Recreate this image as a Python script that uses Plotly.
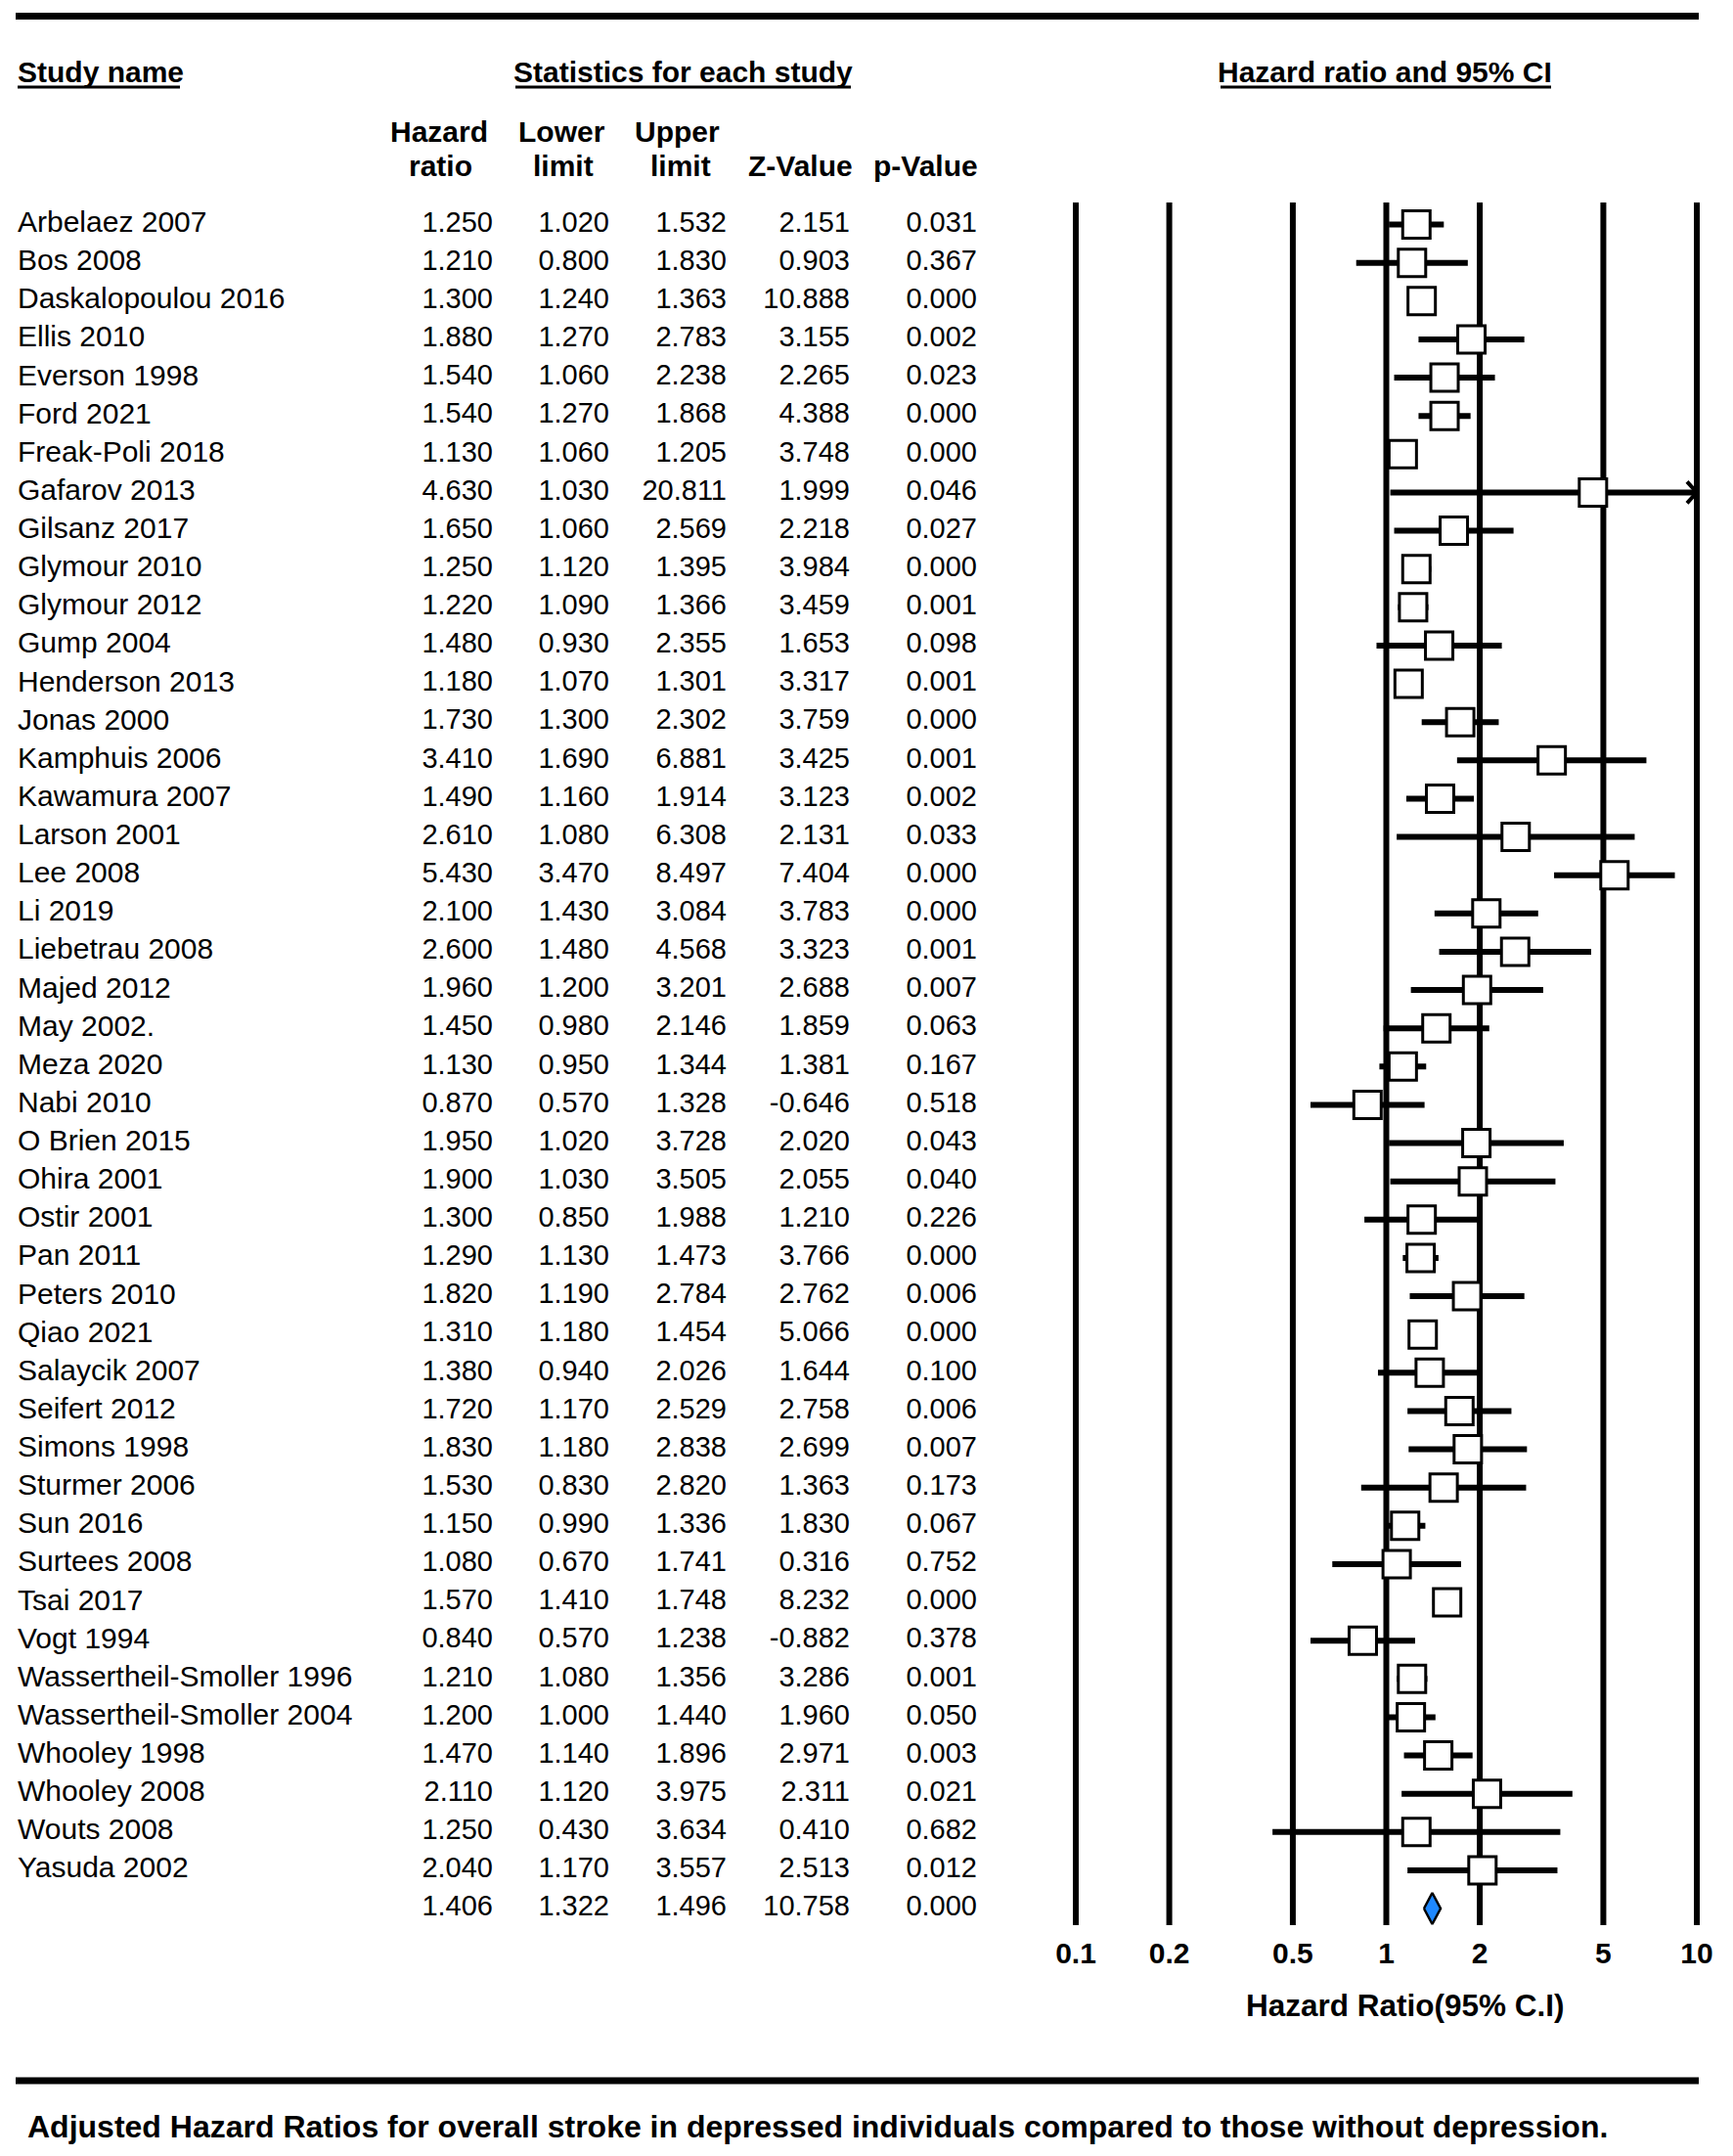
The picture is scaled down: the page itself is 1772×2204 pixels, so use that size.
import plotly.graph_objects as go
import numpy as np

# ---------------- data ----------------
studies = [
    "Arbelaez 2007", "Bos 2008", "Daskalopoulou 2016", "Ellis 2010", "Everson 1998",
    "Ford 2021", "Freak-Poli 2018", "Gafarov 2013", "Gilsanz 2017", "Glymour 2010",
    "Glymour 2012", "Gump 2004", "Henderson 2013", "Jonas 2000", "Kamphuis 2006",
    "Kawamura 2007", "Larson 2001", "Lee 2008", "Li 2019", "Liebetrau 2008",
    "Majed 2012", "May 2002.", "Meza 2020", "Nabi 2010", "O Brien 2015",
    "Ohira 2001", "Ostir 2001", "Pan 2011", "Peters 2010", "Qiao 2021",
    "Salaycik 2007", "Seifert 2012", "Simons 1998", "Sturmer 2006", "Sun 2016",
    "Surtees 2008", "Tsai 2017", "Vogt 1994", "Wassertheil-Smoller 1996",
    "Wassertheil-Smoller 2004", "Whooley 1998", "Whooley 2008", "Wouts 2008", "Yasuda 2002",
]
hazard_ratio = [1.250, 1.210, 1.300, 1.880, 1.540, 1.540, 1.130, 4.630, 1.650, 1.250,
                1.220, 1.480, 1.180, 1.730, 3.410, 1.490, 2.610, 5.430, 2.100, 2.600,
                1.960, 1.450, 1.130, 0.870, 1.950, 1.900, 1.300, 1.290, 1.820, 1.310,
                1.380, 1.720, 1.830, 1.530, 1.150, 1.080, 1.570, 0.840, 1.210, 1.200,
                1.470, 2.110, 1.250, 2.040]
lower_limit = [1.020, 0.800, 1.240, 1.270, 1.060, 1.270, 1.060, 1.030, 1.060, 1.120,
               1.090, 0.930, 1.070, 1.300, 1.690, 1.160, 1.080, 3.470, 1.430, 1.480,
               1.200, 0.980, 0.950, 0.570, 1.020, 1.030, 0.850, 1.130, 1.190, 1.180,
               0.940, 1.170, 1.180, 0.830, 0.990, 0.670, 1.410, 0.570, 1.080, 1.000,
               1.140, 1.120, 0.430, 1.170]
upper_limit = [1.532, 1.830, 1.363, 2.783, 2.238, 1.868, 1.205, 20.811, 2.569, 1.395,
               1.366, 2.355, 1.301, 2.302, 6.881, 1.914, 6.308, 8.497, 3.084, 4.568,
               3.201, 2.146, 1.344, 1.328, 3.728, 3.505, 1.988, 1.473, 2.784, 1.454,
               2.026, 2.529, 2.838, 2.820, 1.336, 1.741, 1.748, 1.238, 1.356, 1.440,
               1.896, 3.975, 3.634, 3.557]
z_value = [2.151, 0.903, 10.888, 3.155, 2.265, 4.388, 3.748, 1.999, 2.218, 3.984,
           3.459, 1.653, 3.317, 3.759, 3.425, 3.123, 2.131, 7.404, 3.783, 3.323,
           2.688, 1.859, 1.381, -0.646, 2.020, 2.055, 1.210, 3.766, 2.762, 5.066,
           1.644, 2.758, 2.699, 1.363, 1.830, 0.316, 8.232, -0.882, 3.286, 1.960,
           2.971, 2.311, 0.410, 2.513]
p_value = [0.031, 0.367, 0.000, 0.002, 0.023, 0.000, 0.000, 0.046, 0.027, 0.000,
           0.001, 0.098, 0.001, 0.000, 0.001, 0.002, 0.033, 0.000, 0.000, 0.001,
           0.007, 0.063, 0.167, 0.518, 0.043, 0.040, 0.226, 0.000, 0.006, 0.000,
           0.100, 0.006, 0.007, 0.173, 0.067, 0.752, 0.000, 0.378, 0.001, 0.050,
           0.003, 0.021, 0.682, 0.012]
summary_hr = 1.406
summary_lower = 1.322
summary_upper = 1.496
summary_z = 10.758
summary_p = 0.000

tick_values = [0.1, 0.2, 0.5, 1, 2, 5, 10]
tick_labels = ["0.1", "0.2", "0.5", "1", "2", "5", "10"]

# ---------------- layout constants (pixels) ----------------
W, H = 1772, 2204
FONT = "Liberation Sans, Arial, sans-serif"
ROW0, ROW_STEP = 229.5, 39.125          # first row centre, row pitch
X_ONE, PX_DEC = 1417.5, 317.5           # pixel of HR=1, pixels per decade
AXIS_BOTTOM_PX = 1968
LINES_TOP_PX = 207


def row_of(pix):
    return (pix - ROW0) / ROW_STEP


def pap_y(pix):
    return 1 - pix / H


def pap_x(pix):
    return pix / W


n = len(studies)
rows = list(range(n))
summary_row = n
x_max = max(tick_values)

fig = go.Figure()

# vertical reference lines
vx, vy = [], []
for v in tick_values:
    vx += [v, v, None]
    vy += [row_of(LINES_TOP_PX), row_of(AXIS_BOTTOM_PX), None]
fig.add_trace(go.Scatter(x=vx, y=vy, mode="lines", line=dict(color="black", width=6),
                         hoverinfo="skip", xaxis="x", yaxis="y"))

# confidence intervals
cx, cy = [], []
for r, lo, hi in zip(rows, lower_limit, upper_limit):
    cx += [lo, min(hi, x_max), None]
    cy += [r, r, None]
fig.add_trace(go.Scatter(x=cx, y=cy, mode="lines", line=dict(color="black", width=6),
                         hoverinfo="skip"))

# arrows for intervals running off the scale
ax_, ay_ = [], []
back = 10 ** (-10 / PX_DEC)
for r, hi in zip(rows, upper_limit):
    if hi > x_max:
        ax_ += [x_max * back, x_max, x_max * back, None]
        ay_ += [r - 0.28, r, r + 0.28, None]
fig.add_trace(go.Scatter(x=ax_, y=ay_, mode="lines", line=dict(color="black", width=4),
                         hoverinfo="skip"))

# point estimates
fig.add_trace(go.Scatter(x=hazard_ratio, y=rows, mode="markers",
                         marker=dict(symbol="square", size=28, color="white",
                                     line=dict(color="black", width=3)),
                         hoverinfo="skip"))

# summary diamond
hh = 16 / ROW_STEP
fig.add_trace(go.Scatter(
    x=[summary_lower, summary_hr, summary_upper, summary_hr, summary_lower],
    y=[summary_row, summary_row - hh, summary_row, summary_row + hh, summary_row],
    mode="lines", fill="toself", fillcolor="#1E88FF",
    line=dict(color="black", width=2.5), hoverinfo="skip"))

# ---------------- text columns (x2 = pixel axis) ----------------
name_font = dict(family=FONT, size=30, color="black")
num_font = dict(family=FONT, size=29, color="black")
fig.add_trace(go.Scatter(x=[18] * n, y=rows, text=studies, mode="text",
                         textposition="middle right", textfont=name_font,
                         xaxis="x2", yaxis="y", hoverinfo="skip"))

columns = [
    (504, hazard_ratio, summary_hr),
    (623, lower_limit, summary_lower),
    (743, upper_limit, summary_upper),
    (869, z_value, summary_z),
    (999, p_value, summary_p),
]
for right, vals, sv in columns:
    txt = [f"{v:.3f}" for v in vals] + [f"{sv:.3f}"]
    fig.add_trace(go.Scatter(x=[right] * (n + 1), y=rows + [summary_row], text=txt,
                             mode="text", textposition="middle left", textfont=num_font,
                             xaxis="x2", yaxis="y", hoverinfo="skip"))

# ---------------- annotations ----------------
def ann(text, x_px, y_px, size, anchor="center", bold=True):
    return dict(text=text, x=pap_x(x_px), y=pap_y(y_px), xref="paper", yref="paper",
                xanchor=anchor, yanchor="middle", showarrow=False,
                font=dict(family=FONT, size=size, color="black",
                          weight="bold" if bold else "normal"))


annotations = [
    ann("Study name", 16, 73, 30, anchor="left"),
    ann("Statistics for each study", 698.5, 73, 30),
    ann("Hazard ratio and 95% CI", 1416, 73, 30),
    ann("Hazard", 449, 134, 30), ann("ratio", 450, 169, 30),
    ann("Lower", 574, 134, 30), ann("limit", 576, 169, 30),
    ann("Upper", 692, 134, 30), ann("limit", 696, 169, 30),
    ann("Z-Value", 818, 169, 30),
    ann("p-Value", 946, 169, 30),
    ann("Hazard Ratio(95% C.I)", 1437, 2050, 31.5),
    ann("Adjusted Hazard Ratios for overall stroke in depressed individuals compared to those without depression.",
        26, 2174, 32, anchor="left"),
]

# ---------------- decorative rules ----------------
def hbar(x0, x1, yc, th):
    return dict(type="rect", xref="paper", yref="paper",
                x0=pap_x(x0), x1=pap_x(x1), y0=pap_y(yc - th / 2), y1=pap_y(yc + th / 2),
                fillcolor="black", line=dict(width=0), layer="above")


shapes = [
    hbar(16, 1737, 16.5, 7),
    hbar(16, 1737, 2127, 7),
    hbar(18, 184, 89, 3),
    hbar(527, 870, 89, 3),
    hbar(1248, 1586, 89, 3),
]

fig.update_layout(
    width=W, height=H, autosize=False,
    margin=dict(l=0, r=0, t=0, b=0, pad=0),
    paper_bgcolor="white", plot_bgcolor="white",
    showlegend=False,
    xaxis=dict(type="log", domain=[0, 1],
               range=[(0 - X_ONE) / PX_DEC, (W - X_ONE) / PX_DEC],
               anchor="free", position=pap_y(AXIS_BOTTOM_PX),
               showgrid=False, zeroline=False, showline=False,
               tickmode="array", tickvals=tick_values, ticktext=tick_labels,
               ticks="outside", ticklen=2, tickcolor="rgba(0,0,0,0)",
               tickfont=dict(family=FONT, size=30, color="black", weight="bold"),
               fixedrange=True),
    xaxis2=dict(overlaying="x", range=[0, W], visible=False, anchor="y", fixedrange=True),
    yaxis=dict(domain=[0, 1], range=[(H - ROW0) / ROW_STEP, -ROW0 / ROW_STEP],
               visible=False, fixedrange=True),
    annotations=annotations,
    shapes=shapes,
    font=dict(family=FONT, color="black"),
)

fig.write_html("out.html", config={"displayModeBar": False},
               post_script="document.body.style.margin='0';document.body.style.overflow='hidden';")
